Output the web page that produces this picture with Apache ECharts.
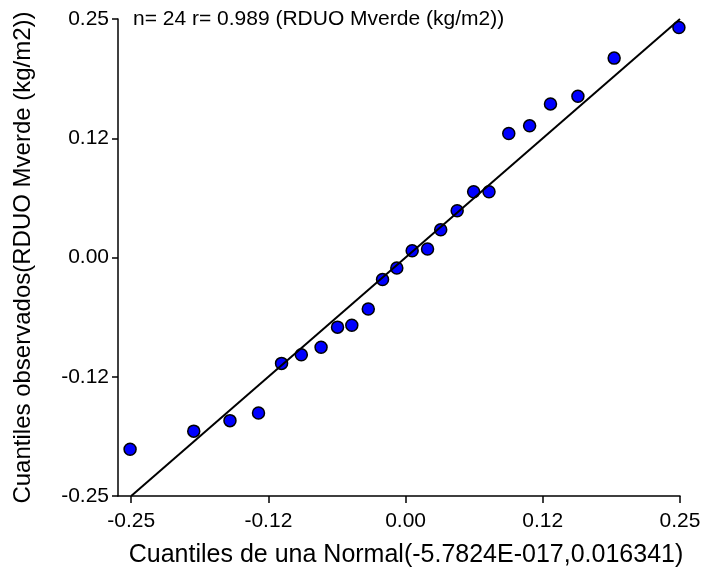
<!DOCTYPE html>
<html>
<head>
<meta charset="utf-8">
<script src="https://cdn.jsdelivr.net/npm/echarts@6/dist/echarts.min.js"></script>
<style>
  html, body { margin: 0; padding: 0; background: #fff; }
  #chart { width: 708px; height: 576px; }
</style>
</head>
<body>
<div id="chart"></div>
<script>
// theoretical normal quantiles (x) and observed quantiles (y)
const normalQuantiles = [
  -0.251, -0.193, -0.160, -0.134, -0.113, -0.095, -0.077, -0.062,
  -0.049, -0.034, -0.021, -0.008, 0.006, 0.020, 0.032, 0.047,
  0.062, 0.076, 0.094, 0.113, 0.132, 0.157, 0.190, 0.249
]
const observedQuantiles = [
  -0.201, -0.182, -0.171, -0.163, -0.111, -0.102, -0.094, -0.073,
  -0.071, -0.054, -0.023, -0.011, 0.007, 0.009, 0.029, 0.049,
  0.069, 0.069, 0.130, 0.138, 0.161, 0.169, 0.209, 0.241
]
// reference line y = x
const refLine = [[-0.25, -0.25], [0.25, 0.25]]
const tickValues = [-0.25, -0.125, 0, 0.125, 0.25]
const tickLabels = ['-0.25', '-0.12', '0.00', '0.12', '0.25']

const font = 'Liberation Sans, Arial, sans-serif'
const labelFor = v => {
  const i = tickValues.findIndex(t => Math.abs(t - v) < 1e-9)
  return i >= 0 ? tickLabels[i] : ''
}

const chart = echarts.init(document.getElementById('chart'))

chart.setOption({
  animation: false,
  title: {
    text: 'n= 24 r= 0.989 (RDUO Mverde (kg/m2))',
    left: 133,
    top: 9,
    padding: 0,
    textStyle: { fontFamily: font, fontSize: 21, fontWeight: 'normal', color: '#000' }
  },
  grid: { left: 118, right: 28, top: 19, bottom: 80 },
  xAxis: {
    type: 'value',
    min: -0.262,
    max: 0.25,
    name: 'Cuantiles de una Normal(-5.7824E-017,0.016341)',
    nameLocation: 'middle',
    nameGap: 47,
    nameTextStyle: { fontFamily: font, fontSize: 25, color: '#000', padding: [0, 0, 0, 14] },
    splitLine: { show: false },
    axisLine: { onZero: false, lineStyle: { color: '#000', width: 1.5 } },
    axisTick: { customValues: tickValues, length: 7, lineStyle: { color: '#000', width: 1.5 } },
    axisLabel: {
      customValues: tickValues,
      formatter: labelFor,
      margin: 15,
      fontFamily: font,
      fontSize: 21,
      color: '#000'
    }
  },
  yAxis: {
    type: 'value',
    min: -0.25,
    max: 0.25,
    name: 'Cuantiles observados(RDUO Mverde (kg/m2))',
    nameLocation: 'middle',
    nameGap: 83,
    nameTextStyle: { fontFamily: font, fontSize: 24, color: '#000' },
    splitLine: { show: false },
    axisLine: { show: true, onZero: false, lineStyle: { color: '#000', width: 1.5 } },
    axisTick: { show: true, customValues: tickValues, length: 6, lineStyle: { color: '#000', width: 1.5 } },
    axisLabel: {
      customValues: tickValues,
      formatter: labelFor,
      margin: 9,
      fontFamily: font,
      fontSize: 21,
      color: '#000'
    }
  },
  series: [
    {
      type: 'line',
      data: refLine,
      symbol: 'none',
      lineStyle: { color: '#000', width: 2 },
      silent: true
    },
    {
      type: 'scatter',
      data: normalQuantiles.map((x, i) => [x, observedQuantiles[i]]),
      symbolSize: 12,
      itemStyle: { color: '#0000ff', borderColor: '#000', borderWidth: 1.5, opacity: 1 }
    }
  ]
})
</script>
</body>
</html>
